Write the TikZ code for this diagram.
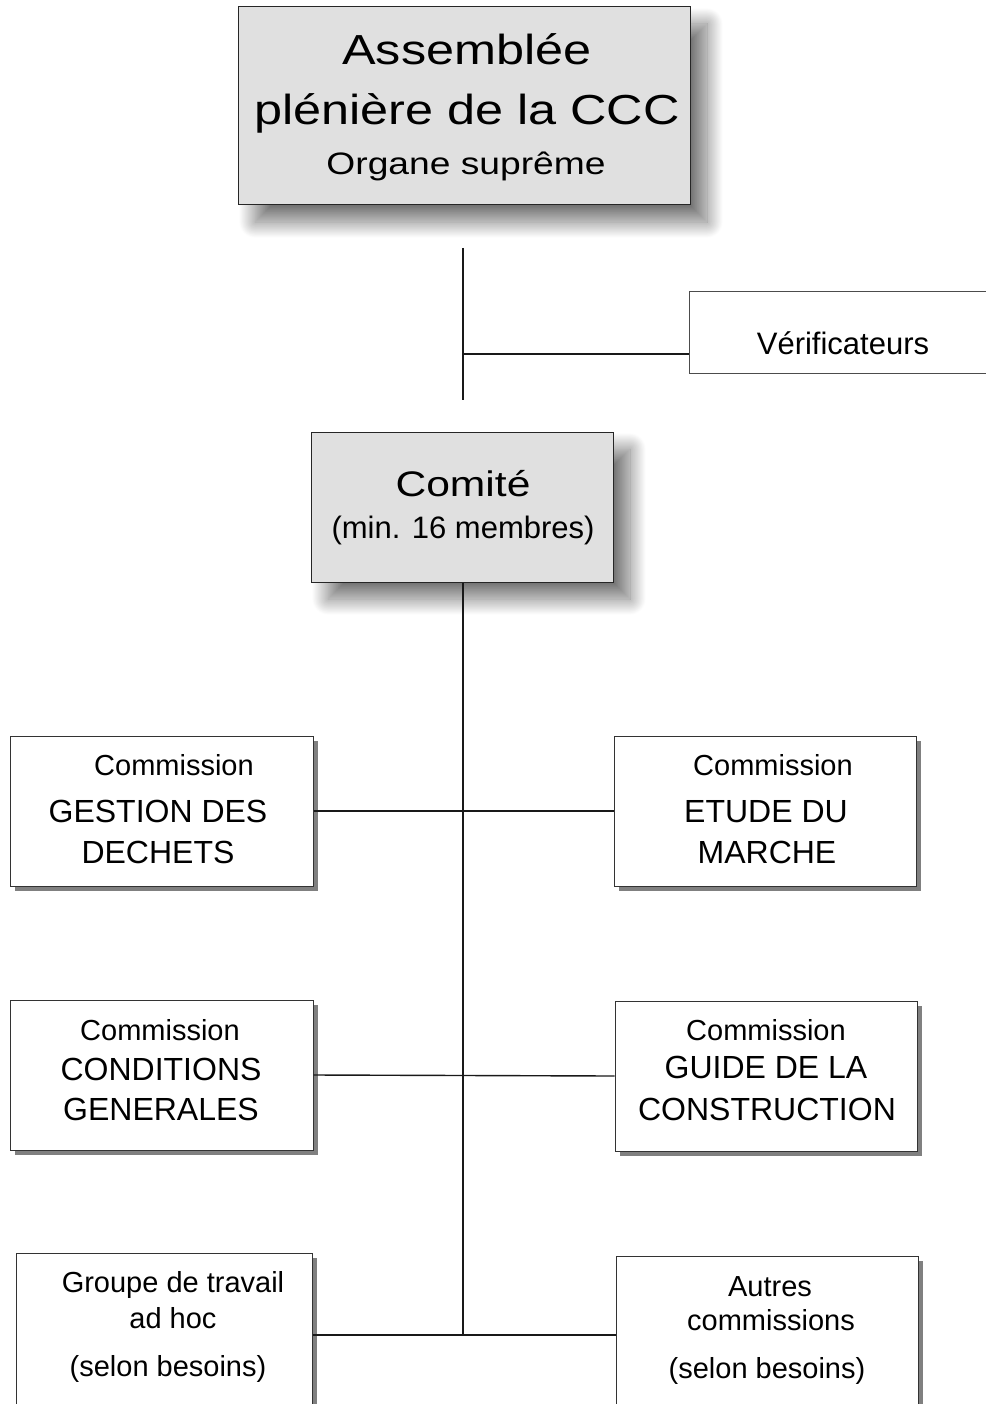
\documentclass[tikz,border=0pt]{standalone}
\usepackage{fontspec}
\setmainfont{Liberation Sans}
\newfontfamily\widefont[FakeStretch=1.2]{Liberation Sans}
\usetikzlibrary{shadows,shadows.blur}
\definecolor{boxgray}{HTML}{E0E0E0}
\begin{document}
\begin{tikzpicture}[x=1pt,y=-1pt,
  graybox/.style={draw=black!85, line width=1pt, fill=boxgray, inner sep=0pt,
    blur shadow={shadow xshift=17pt, shadow yshift=-17pt, shadow blur radius=16pt, shadow blur steps=40, shadow opacity=55}},
  combox/.style={draw=black!80, line width=1pt, fill=white, inner sep=0pt,
    minimum width=303pt, minimum height=150pt,
    drop shadow={shadow xshift=5pt, shadow yshift=-5pt, fill=black!50, opacity=1}},
  plainbox/.style={draw=black!70, line width=1pt, fill=white, inner sep=0pt},
  conn/.style={line width=1.4pt, draw=black!90},
  txt/.style={anchor=base, inner sep=0pt, font=\fontsize{29}{34}\selectfont},
  caps/.style={anchor=base, inner sep=0pt, font=\fontsize{32}{38}\selectfont},
]
\useasboundingbox (0,0) rectangle (985,1404);
% boxes
\node[graybox, minimum width=452pt, minimum height=198pt] (top) at (464,106) {};
\node[plainbox, minimum width=321pt, minimum height=81pt] (verif) at (849.5,332.5) {};
\node[graybox, minimum width=302pt, minimum height=150pt] (comite) at (462,507) {};
\node[combox] (c1l) at (161.5,811) {};
\node[combox, minimum width=302pt] (c1r) at (765,811) {};
\node[combox] (c2l) at (161.5,1075) {};
\node[combox, minimum width=302pt] (c2r) at (766,1076) {};
\node[combox, minimum width=296pt, minimum height=167pt] (c3l) at (164,1336.5) {};
\node[combox, minimum width=302pt, minimum height=164pt] (c3r) at (767,1338) {};
% texts
\node[anchor=base, inner sep=0pt, font=\widefont\fontsize{42}{50}\selectfont] (t1) at (467,65) {Assemblée};
\node[anchor=base, inner sep=0pt, font=\widefont\fontsize{42}{50}\selectfont] (t2) at (467,125) {plénière de la CCC};
\node[anchor=base, inner sep=0pt, font=\widefont\fontsize{31}{36}\selectfont] (t3) at (466,175) {Organe suprême};
\node[anchor=base, inner sep=0pt, font=\fontsize{31}{36}\selectfont] (tv) at (843,354) {Vérificateurs};
\node[anchor=base, inner sep=0pt, font=\widefont\fontsize{35.5}{42}\selectfont] (tc1) at (463,496) {Comité};
\node[anchor=base, inner sep=0pt, font=\fontsize{31}{36}\selectfont] (tc2) at (463,538) {(min. 16 membres)};
%
\node[txt] (a1) at (174,775) {Commission};
\node[caps] (a2) at (158,822) {GESTION DES};
\node[caps] (a3) at (158,863) {DECHETS};
\node[txt] (b1) at (773,775) {Commission};
\node[caps] (b2) at (766,822) {ETUDE DU};
\node[caps] (b3) at (767,863) {MARCHE};
\node[txt] (d1) at (160,1040) {Commission};
\node[caps] (d2) at (161,1080) {CONDITIONS};
\node[caps] (d3) at (161,1120) {GENERALES};
\node[txt] (e1) at (766,1040) {Commission};
\node[caps] (e2) at (766,1078) {GUIDE DE LA};
\node[caps] (e3) at (767,1120) {CONSTRUCTION};
\node[txt] (f1) at (173,1292) {Groupe de travail};
\node[txt] (f2) at (173,1328) {ad hoc};
\node[txt] (f3) at (168,1376) {(selon besoins)};
\node[txt] (g1) at (770,1296) {Autres};
\node[txt] (g2) at (771,1330) {commissions};
\node[txt] (g3) at (767,1378) {(selon besoins)};
% connectors
\coordinate (v1) at (463,248);
\coordinate (v2) at (463,400);
\coordinate (vj) at (463,354);
\coordinate (j3) at (463,1335);
\draw[conn] (v1) -- (v2);
\draw[conn] (vj) -- (vj -| verif.west);
\draw[conn] (comite.south -| j3) -- (j3);
\draw[conn] (c1l.east) -- (c1r.west);
\draw[conn] (c2l.east) -- (c2r.west);
\draw[conn] (j3 -| c3l.east) -- (j3 -| c3r.west);
\end{tikzpicture}
\end{document}
